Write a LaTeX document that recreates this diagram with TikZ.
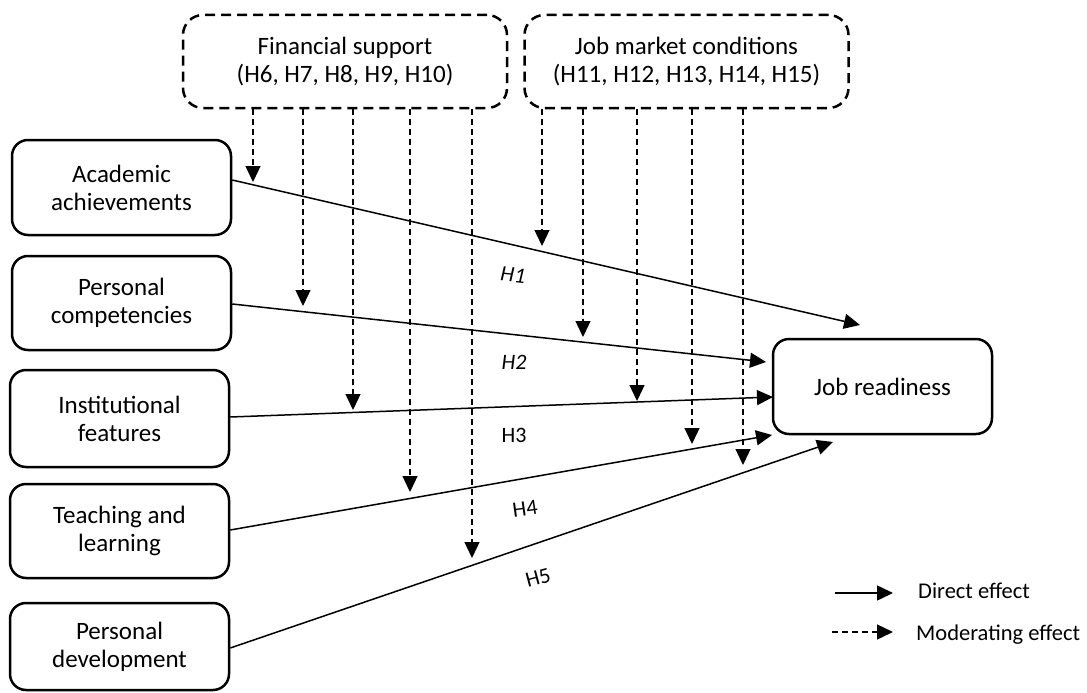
\documentclass[tikz,border=0pt]{standalone}
\usepackage{fontspec}
\setmainfont{Carlito}
\usetikzlibrary{arrows.meta}
\begin{document}
\begin{tikzpicture}[x=1pt,y=-1pt,
  box/.style={draw, line width=2.5pt, rounded corners=16pt, minimum width=219pt, align=center, font=\fontsize{25}{28}\selectfont, inner sep=0pt},
  modbox/.style={draw, line width=2.5pt, dash pattern=on 10pt off 6pt, rounded corners=20pt, minimum width=324pt, minimum height=93pt, align=center, font=\fontsize{25}{28}\selectfont, inner sep=0pt},
  direct/.style={line width=1.5pt, -{Triangle[length=16pt,width=15pt]}},
  moder/.style={line width=1.3pt, dash pattern=on 6pt off 4pt, -{Triangle[length=16pt,width=15pt]}},
  hlab/.style={font=\fontsize{22}{24}\selectfont, inner sep=0pt},
  leg/.style={font=\fontsize{22.5}{24}\selectfont, anchor=west, inner sep=0pt}
]
\useasboundingbox (0,0) rectangle (1087,693);

% independent variables
\node[box, minimum height=95pt] (aa) at (121.5,187.5) {Academic\\achievements};
\node[box, minimum height=94pt] (pc) at (121.5,303) {Personal\\competencies};
\node[box, minimum height=97pt] (if) at (119.5,418.5) {Institutional\\features};
\node[box, minimum height=94pt] (tl) at (119.5,531) {Teaching and\\learning};
\node[box, minimum height=87pt] (pd) at (119.5,646.5) {Personal\\development};
% dependent variable
\node[box, minimum height=95pt] (jr) at (882.5,386.5) {Job readiness};
% moderators
\node[modbox] (fs) at (345,61.5) {Financial support\\(H6, H7, H8, H9, H10)};
\node[modbox] (jm) at (686.5,61.5) {Job market conditions\\(H11, H12, H13, H14, H15)};

% direct effects
\coordinate (e1) at (860,325);
\coordinate (e2) at (766,362);
\coordinate (e3) at (773,397);
\coordinate (e4) at (772,435);
\coordinate (e5) at (833,442);
\draw[direct] (aa.east |- 0,180) -- (e1);
\draw[direct] (pc.east |- 0,304) -- (e2);
\draw[direct] (if.east |- 0,417) -- (e3);
\draw[direct] (tl.east |- 0,530) -- (e4);
\draw[direct] (pd.east |- 0,648) -- (e5);

% moderating effects: financial support
\coordinate (f1) at (253,182);
\coordinate (f2) at (303,306);
\coordinate (f3) at (353,410);
\coordinate (f4) at (410,492);
\coordinate (f5) at (472,558);
\foreach \c in {f1,f2,f3,f4,f5}{\draw[moder] (fs.south -| \c) -- (\c);}
% moderating effects: job market conditions
\coordinate (j1) at (542,246);
\coordinate (j2) at (583,337);
\coordinate (j3) at (637,401);
\coordinate (j4) at (692,444);
\coordinate (j5) at (743,465);
\foreach \c in {j1,j2,j3,j4,j5}{\draw[moder] (jm.south -| \c) -- (\c);}

% hypothesis labels
\node[hlab, font=\fontsize{22}{24}\selectfont\itshape, rotate=-6] (h1) at (513,275) {H1};
\node[hlab, font=\fontsize{22}{24}\selectfont\itshape] (h2) at (514,362) {H2};
\node[hlab] (h3) at (514,435) {H3};
\node[hlab, rotate=8] (h4) at (525,509) {H4};
\node[hlab, rotate=15] (h5) at (538,578) {H5};

% legend
\coordinate (l1a) at (835,593);
\coordinate (l1b) at (893,593);
\draw[direct] (l1a) -- (l1b);
\node[leg] (lt1) at (918,591) {Direct effect};
\coordinate (l2a) at (832,632);
\coordinate (l2b) at (893,632);
\draw[moder] (l2a) -- (l2b);
\node[leg] (lt2) at (916,635) {Moderating effect};
\end{tikzpicture}
\end{document}
